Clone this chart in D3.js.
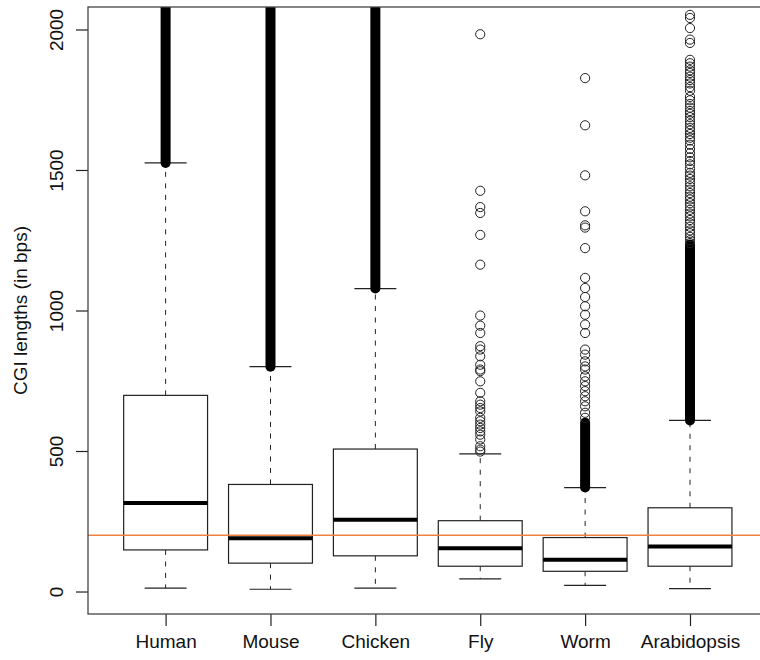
<!DOCTYPE html>
<html>
<head>
<meta charset="utf-8">
<script src="https://cdn.jsdelivr.net/npm/d3@7"></script>
<style>
  body { margin: 0; background: #fff; }
  svg text { font-family: "Liberation Sans", Arial, Helvetica, sans-serif; fill: #111; }
</style>
</head>
<body>
<svg id="chart" width="760" height="660"></svg>
<script>
// box statistics (bps)
const categories = ["Human", "Mouse", "Chicken", "Fly", "Worm", "Arabidopsis"]
const lowWhisker = [12, 8, 12, 45, 22, 10]
const q1 = [148, 101, 127, 90, 72, 90]
const medians = [315, 190, 255, 154, 113, 160]
const q3 = [698, 381, 507, 252, 192, 298]
const highWhisker = [1525, 800, 1078, 490, 370, 609]

// runs of outliers so packed they print as a solid bar
const denseFrom = [1525, 800, 1078, null, 370, 609]
const denseTo = [2100, 2100, 2100, null, 601, 1235]

// single outliers that can still be told apart
const outliers = [
    [],
    [],
    [],
    [1983, 1426, 1368, 1347, 1269, 1163, 982, 946, 920, 873, 861, 837, 807, 790, 784,
        748, 707, 677, 665, 653, 641, 618, 606, 594, 582, 570, 558, 541, 517, 505, 498],
    [1827, 1659, 1481, 1353, 1303, 1295, 1222, 1116, 1080, 1048, 1015, 985, 950, 920,
        861, 843, 819, 801, 790, 766, 748, 731, 713, 695, 677, 659, 636, 618],
    [2052, 2041, 2005, 1964, 1952, 1892, 1880, 1868, 1855, 1845, 1832, 1820, 1808, 1795,
        1782, 1760, 1748, 1735, 1722, 1710, 1700, 1688, 1675, 1663, 1650, 1640, 1628, 1615,
        1605, 1590, 1575, 1560, 1545, 1532, 1520, 1505, 1490, 1480, 1468, 1455, 1442, 1430,
        1418, 1405, 1395, 1382, 1370, 1358, 1345, 1335, 1322, 1310, 1298, 1285, 1275, 1262,
        1250, 1240]
]

const yTicks = [0, 500, 1000, 1500, 2000]
const refLine = 200

const margin = {top: 7, left: 88, bottom: 614, right: 767.6}

const svg = d3.select("#chart")

const fx = d3.scaleLinear()
    .domain([0.26, 6.74])
    .range([margin.left, margin.right])
const fy = d3.scaleLinear()
    .domain([-80, 2080])
    .range([margin.bottom, margin.top])

svg.append("clipPath")
    .attr("id", "plotclip")
    .append("rect")
    .attr("x", margin.left)
    .attr("y", margin.top)
    .attr("width", margin.right - margin.left)
    .attr("height", margin.bottom - margin.top)

const plot = svg.append("g").attr("clip-path", "url(#plotclip)")
const stroke = "#222"

categories.forEach((c, i) => {
    const cx = fx(i + 1)
    const bw = fx(0.4) - fx(0)
    const cw = fx(0.2) - fx(0)

    // whiskers
    plot.append("line")
        .attr("x1", cx).attr("x2", cx)
        .attr("y1", fy(q3[i])).attr("y2", fy(highWhisker[i]))
        .attr("stroke", stroke).attr("stroke-dasharray", "5,6.5")
    plot.append("line")
        .attr("x1", cx).attr("x2", cx)
        .attr("y1", fy(q1[i])).attr("y2", fy(lowWhisker[i]))
        .attr("stroke", stroke).attr("stroke-dasharray", "5,6.5")
    ;[lowWhisker[i], highWhisker[i]].forEach(v => {
        plot.append("line")
            .attr("x1", cx - cw).attr("x2", cx + cw)
            .attr("y1", fy(v)).attr("y2", fy(v))
            .attr("stroke", stroke).attr("stroke-width", 1.2)
    })

    // box + median
    plot.append("rect")
        .attr("x", cx - bw)
        .attr("width", bw * 2)
        .attr("y", fy(q3[i]))
        .attr("height", fy(q1[i]) - fy(q3[i]))
        .attr("fill", "#fff")
        .attr("stroke", stroke).attr("stroke-width", 1.2)
    plot.append("line")
        .attr("x1", cx - bw).attr("x2", cx + bw)
        .attr("y1", fy(medians[i])).attr("y2", fy(medians[i]))
        .attr("stroke", "#000").attr("stroke-width", 4)

    // outliers
    if (denseFrom[i] != null) {
        plot.append("line")
            .attr("x1", cx).attr("x2", cx)
            .attr("y1", fy(denseFrom[i])).attr("y2", fy(denseTo[i]))
            .attr("stroke", "#000").attr("stroke-width", 10)
            .attr("stroke-linecap", "round")
    }
    plot.selectAll(null)
        .data(outliers[i])
        .join("circle")
        .attr("cx", cx)
        .attr("cy", d => fy(d))
        .attr("r", 4.6)
        .attr("fill", "none")
        .attr("stroke", "#222")
        .attr("stroke-width", 1)
})

// reference line
plot.append("line")
    .attr("x1", margin.left).attr("x2", margin.right)
    .attr("y1", fy(refLine)).attr("y2", fy(refLine))
    .attr("stroke", "#ee8040").attr("stroke-width", 1.6)

// axes
const yAxis = svg.append("g")
    .attr("transform", "translate(" + margin.left + ",0)")
    .call(d3.axisLeft(fy).tickValues(yTicks).tickSize(12).tickFormat(d3.format("d")))
yAxis.select(".domain").remove()
yAxis.selectAll("line").attr("stroke", stroke).attr("stroke-width", 1.2)
yAxis.selectAll("text")
    .attr("x", null).attr("dy", null)
    .attr("text-anchor", "middle")
    .attr("transform", "translate(-25,0) rotate(-90)")
    .style("font-size", "19px")

const xAxis = svg.append("g")
    .attr("transform", "translate(0," + margin.bottom + ")")
    .call(d3.axisBottom(fx).tickValues(d3.range(1, 7)).tickSize(12)
        .tickFormat(d => categories[d - 1]))
xAxis.select(".domain").remove()
xAxis.selectAll("line").attr("stroke", stroke).attr("stroke-width", 1.2)
xAxis.selectAll("text")
    .attr("dy", null)
    .attr("y", 34)
    .style("font-size", "19px")

// plot frame
svg.append("rect")
    .attr("x", margin.left)
    .attr("y", margin.top)
    .attr("width", margin.right - margin.left)
    .attr("height", margin.bottom - margin.top)
    .attr("fill", "none")
    .attr("stroke", "#444")
    .attr("stroke-width", 1.3)

svg.append("text")
    .attr("transform", "translate(27," + ((margin.top + margin.bottom) / 2) + ") rotate(-90)")
    .attr("text-anchor", "middle")
    .style("font-size", "19px")
    .text("CGI lengths (in bps)")
</script>
</body>
</html>
